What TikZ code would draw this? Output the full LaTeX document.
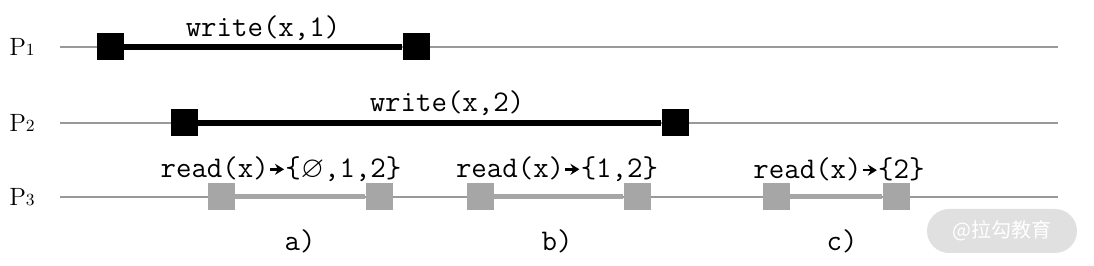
\documentclass[tikz,border=0pt]{standalone}
\usepackage{amssymb}
\usepackage{fontspec}
\usetikzlibrary{arrows.meta}
\newfontfamily\cjk{Noto Sans CJK SC}
\newcommand{\rarr}{\tikz[baseline=-4pt]\draw[line width=1.3pt,-{Stealth[length=4.5pt,width=5.5pt]}] (0.5pt,0pt) -- (7.5pt,0pt);}
\newcommand{\pn}[1]{P{\fontsize{8.5}{10}\selectfont #1}}
\begin{document}
\begin{tikzpicture}[x=0.5pt,y=-0.5pt,
  ev/.style={fill=black,minimum size=13.5pt,inner sep=0pt},
  rev/.style={ev,fill=black!35},
  tl/.style={black!40,line width=1pt},
  wop/.style={line width=3pt},
  rop/.style={black!35,line width=2.5pt},
  lbl/.style={font=\fontsize{15}{17}\selectfont\ttfamily},
  pname/.style={font=\fontsize{12.5}{14}\selectfont}]
  \useasboundingbox (0,0) rectangle (1094,266);
  % time lines
  \node[pname] (p1) at (22,47) {\pn{1}};
  \node[pname] (p2) at (22,123) {\pn{2}};
  \node[pname] (p3) at (22,197) {\pn{3}};
  \coordinate (e1) at (1058,47);
  \coordinate (e2) at (1058,123);
  \coordinate (e3) at (1058,197);
  \draw[tl] (60,47) -- (e1);
  \draw[tl] (60,123) -- (e2);
  \draw[tl] (60,197) -- (e3);
  % writes
  \node[ev] (w1a) at (110,47) {};
  \node[ev] (w1b) at (416,47) {};
  \draw[wop] (w1a) -- (w1b) node[lbl] (w1) at (263,28) {write(x,1)};
  \node[ev] (w2a) at (184,123) {};
  \node[ev] (w2b) at (675,123) {};
  \draw[wop] (w2a) -- (w2b) node[lbl] (w2) at (447,103) {write(x,2)};
  % reads
  \node[rev] (ra1) at (221,197) {};
  \node[rev] (ra2) at (379,197) {};
  \draw[rop] (ra1) -- (ra2);
  \node[rev] (rb1) at (480,197) {};
  \node[rev] (rb2) at (637,197) {};
  \draw[rop] (rb1) -- (rb2);
  \node[rev] (rc1) at (776,197) {};
  \node[rev] (rc2) at (896,197) {};
  \draw[rop] (rc1) -- (rc2);
  \node[lbl] (la) at (281,169) {read(x)\rarr\{$\varnothing$,1,2\}};
  \node[lbl] (lb) at (557,169) {read(x)\rarr\{1,2\}};
  \node[lbl] (lc) at (839,169) {read(x)\rarr\{2\}};
  \node[lbl] (ca) at (300,241) {a)};
  \node[lbl] (cb) at (557,241) {b)};
  \node[lbl] (cc) at (842,241) {c)};
  \node[fill=black!12,rounded corners=11pt,minimum width=75pt,minimum height=22pt,
    text=white,font=\cjk\fontsize{10}{12}\selectfont] (wm) at (1002,231) {@拉勾教育};
\end{tikzpicture}
\end{document}
